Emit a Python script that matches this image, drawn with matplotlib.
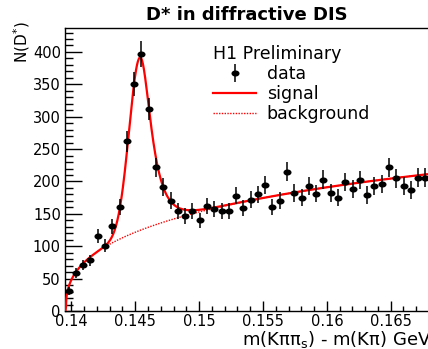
import numpy as np
import matplotlib
matplotlib.use("Agg")
import matplotlib.pyplot as plt
from matplotlib.path import Path
from matplotlib.lines import Line2D
from matplotlib.ticker import MultipleLocator

# binning of the delta-m histogram (GeV)
bin_lo = 0.1395
bin_hi = 0.168
n_bins = 50

# D* candidates per bin
counts = np.array([31, 59, 71, 78, 116, 101, 131, 161, 262, 350,
                   397, 312, 222, 192, 170, 154, 147, 154, 140, 162,
                   158, 154, 154, 178, 159, 172, 180, 194, 161, 170,
                   215, 182, 175, 193, 181, 203, 182, 175, 199, 188,
                   202, 179, 193, 196, 222, 205, 193, 187, 206, 206])

# fit parameters: signal peak + threshold background
m_pi = 0.13957
bkg_norm = 850.0
bkg_pow = 0.37
bkg_slope = -2.6
sig_amp = 267.0
sig_mean = 0.14537
sig_width_lo = 0.00085
sig_width_hi = 0.00083
bkg_start = 0.1428

xticks = [0.14, 0.145, 0.15, 0.155, 0.16, 0.165]
xticklabels = ["0.14", "0.145", "0.15", "0.155", "0.16", "0.165"]


def background(x):
    dx = np.clip(x - m_pi, 0, None)
    return bkg_norm * dx**bkg_pow * np.exp(bkg_slope * dx)


def signal(x):
    # gaussian below the peak, modified gaussian (longer tail) above it
    u_lo = (x - sig_mean) / sig_width_lo
    u_hi = np.abs(x - sig_mean) / sig_width_hi
    tail = np.exp(-0.5 * u_hi**(1 + 1 / (1 + 0.5 * u_hi)))
    core = np.exp(-0.5 * u_lo**2)
    return sig_amp * np.where(x < sig_mean, core, tail)


edges = np.linspace(bin_lo, bin_hi, n_bins + 1)
centers = 0.5 * (edges[1:] + edges[:-1])

# flattened dot used for the data points
circ = Path.unit_circle()
dot = Path(circ.vertices * [1.0, 0.7], circ.codes)

fig = plt.figure(figsize=(4.28, 3.49), dpi=100)
ax = fig.add_axes([65/428, 38/349, (429-65)/428, 283/349])

xs = np.linspace(bin_lo, bin_hi, 800)
sig_line, = ax.plot(xs, background(xs) + signal(xs), color="red", lw=1.6, zorder=3)
xb = np.linspace(bkg_start, bin_hi, 400)
bkg_line, = ax.plot(xb, background(xb), color="red", lw=1.0, ls=(0, (1, 1)), zorder=2)

ax.errorbar(centers, counts, yerr=np.sqrt(counts), fmt="none",
            ecolor="black", elinewidth=1.1, capsize=0, zorder=4)
ax.plot(centers, counts, ls="none", marker=dot, ms=4.8, color="black", zorder=5)

ax.set_xlim(bin_lo, bin_hi)
ax.set_ylim(0, 437)
ax.set_xticks(xticks)
ax.set_xticklabels(xticklabels)
ax.xaxis.set_minor_locator(MultipleLocator(0.001))
ax.yaxis.set_major_locator(MultipleLocator(50))
ax.yaxis.set_minor_locator(MultipleLocator(10))
ax.tick_params(axis="x", which="major", direction="in", length=7, width=1, labelsize=10.5, pad=2)
ax.tick_params(axis="x", which="minor", direction="in", length=3.5, width=1)
ax.tick_params(axis="y", which="major", direction="in", length=12, width=1, labelsize=10.5, pad=3)
ax.tick_params(axis="y", which="minor", direction="in", length=6, width=1)
for s in ax.spines.values():
    s.set_linewidth(1.0)

# axis titles sit at the far ends of the axes
fig.text(431/428, 1 - 339/349, "m(Kππ$_\\mathregular{s}$) - m(Kπ) GeV",
         ha="right", va="center", fontsize=13)
fig.text(22/428, 1 - 63/349, "N(D$^{*}$)", rotation=90,
         ha="center", va="bottom", fontsize=11)

fig.text(247/428, 1 - 15/349, "D* in diffractive DIS", ha="center", va="center",
         fontsize=13, fontweight="bold")

data_handle = ax.errorbar([], [], yerr=[], fmt="none", ecolor="black", elinewidth=1.1)
data_marker = Line2D([], [], ls="none", marker=dot, ms=4.8, color="black")
ax.legend([(data_handle, data_marker), sig_line, bkg_line], ["data", "signal", "background"],
          title="H1 Preliminary", loc="upper left",
          bbox_to_anchor=((213-65)/364, (311-45)/283), frameon=False,
          fontsize=12.5, title_fontsize=12.5, alignment="left",
          handlelength=2.5, handletextpad=0.6, labelspacing=0.12,
          borderpad=0, borderaxespad=0)

fig.savefig("out.png", dpi=100)
